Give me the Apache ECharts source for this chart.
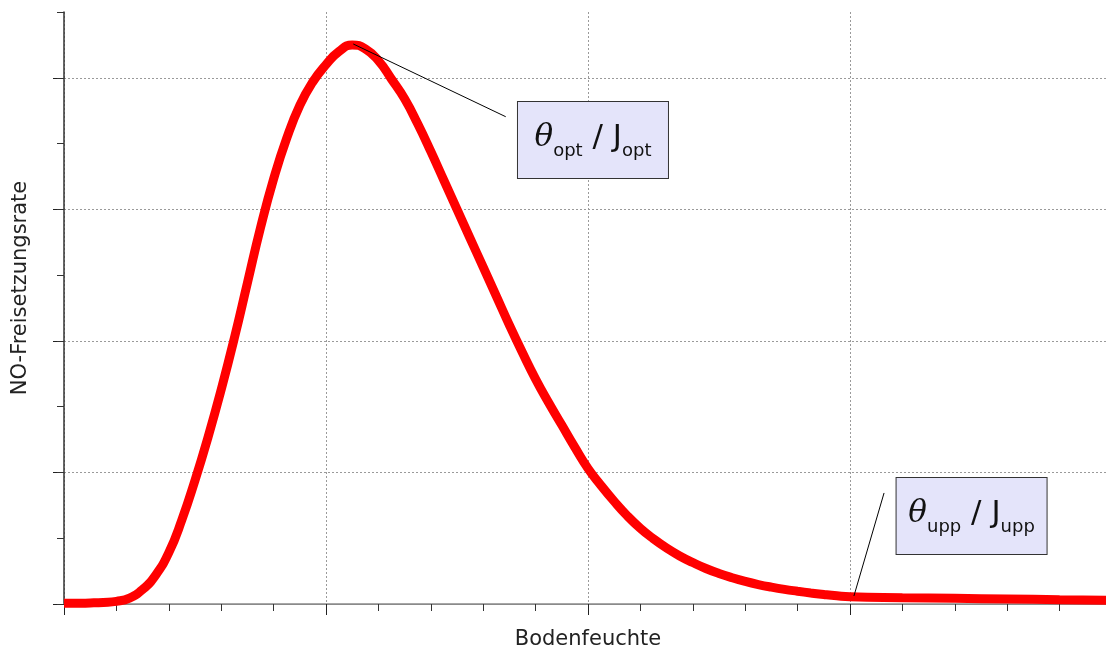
<!DOCTYPE html>
<html>
<head>
<meta charset="utf-8">
<script src="https://cdn.jsdelivr.net/npm/echarts@6/dist/echarts.min.js"></script>
<style>
  html, body { margin: 0; padding: 0; background: #fff; }
  #chart { width: 1106px; height: 650px; }
</style>
</head>
<body>
<div id="chart"></div>
<script>
// Bodenfeuchte (x) gegen NO-Freisetzungsrate (y)
var moisture = [0.00, 0.05, 0.10, 0.15, 0.20, 0.25, 0.30, 0.35, 0.40, 0.45,
                0.50, 0.55, 0.60, 0.65, 0.70, 0.75, 0.80, 0.85, 0.90, 0.95,
                1.00, 1.05, 1.10, 1.15, 1.20, 1.25, 1.30, 1.35, 1.40, 1.45,
                1.50, 1.55, 1.60, 1.65, 1.70, 1.75, 1.80, 1.85, 1.90, 1.95,
                2.00, 2.05, 2.10, 2.15, 2.20, 2.25, 2.30, 2.35, 2.40, 2.45,
                2.50, 2.55, 2.60, 2.65, 2.70, 2.75, 2.80, 2.85, 2.90, 2.95,
                3.00, 3.20, 3.40, 3.60, 3.80, 4.00];
var rate     = [0.005, 0.006, 0.008, 0.012, 0.020, 0.045, 0.11, 0.22, 0.39, 0.64,
                0.94, 1.27, 1.63, 2.02, 2.44, 2.86, 3.23, 3.54, 3.79, 3.97,
                4.10, 4.20, 4.25, 4.22, 4.13, 3.99, 3.84, 3.65, 3.44, 3.22,
                3.00, 2.78, 2.56, 2.34, 2.12, 1.91, 1.71, 1.53, 1.36, 1.19,
                1.03, 0.90, 0.78, 0.67, 0.575, 0.495, 0.425, 0.365, 0.315, 0.270,
                0.232, 0.200, 0.172, 0.148, 0.128, 0.111, 0.097, 0.084, 0.072, 0.062,
                0.055, 0.048, 0.043, 0.038, 0.033, 0.028];

// Markierungen: Ankerpunkt auf der Kurve, Ende der Hinweislinie, Mitte des Kastens
var markSub    = ["opt", "upp"];
var markAnchor = [[1.104, 4.257], [3.015, 0.061]];
var markLead   = [[1.686, 3.704], [3.130, 0.844]];
var markBox    = [[2.019, 3.527], [3.464, 0.668]];

var points = moisture.map(function (x, i) { return [x, rate[i]]; });

var chart = echarts.init(document.getElementById("chart"), null, { renderer: "canvas" });

var FONT = "DejaVu Sans";
var dotted = { color: "#9a9a9a", width: 1, type: [2, 2] };

chart.setOption({
  animation: false,
  backgroundColor: "#fff",
  grid: { left: 64, right: -6, top: 12, bottom: 46, outerBoundsMode: "none" },
  xAxis: [{
    type: "value", min: 0, max: 4, interval: 1, position: "bottom",
    name: "Bodenfeuchte", nameLocation: "middle", nameGap: 25,
    nameTextStyle: { fontFamily: FONT, fontSize: 21, color: "#222" },
    axisLine: { lineStyle: { color: "#8a8a8a", width: 1 } },
    axisTick: { show: true, length: 11, lineStyle: { color: "#222", width: 1 } },
    minorTick: { show: true, splitNumber: 5, length: 7, lineStyle: { color: "#333", width: 1 } },
    axisLabel: { show: false },
    splitLine: { show: true, lineStyle: dotted }
  }, {
    type: "value", min: 0, max: 4, position: "top",
    axisLine: { show: true, lineStyle: { color: "#8a8a8a", width: 1.5 } },
    axisTick: { show: false }, axisLabel: { show: false }, splitLine: { show: false }
  }],
  yAxis: [{
    type: "value", min: 0, max: 4.5, interval: 1, position: "left",
    name: "NO-Freisetzungsrate", nameLocation: "middle", nameGap: 33,
    nameTextStyle: { fontFamily: FONT, fontSize: 21, color: "#222", padding: [0, 0, 0, 40] },
    axisLine: { show: true, lineStyle: { color: "#333", width: 1.5 } },
    axisTick: { show: true, length: 11, customValues: [0, 1, 2, 3, 4],
                lineStyle: { color: "#222", width: 1 } },
    axisLabel: { show: false },
    splitLine: { show: true, lineStyle: dotted }
  }, {
    type: "value", min: 0, max: 4.5, interval: 0.5, position: "left",
    axisLine: { show: false },
    axisTick: { show: true, length: 7, lineStyle: { color: "#333", width: 1 } },
    axisLabel: { show: false }, splitLine: { show: false }
  }],
  series: [{
    type: "line", xAxisIndex: 0, yAxisIndex: 0,
    data: points, smooth: 0.5, showSymbol: false, symbol: "none",
    lineStyle: { color: "#ff0000", width: 9 },
    markLine: {
      silent: true, symbol: "none", label: { show: false },
      lineStyle: { color: "#000", width: 1, type: "solid" },
      data: markAnchor.map(function (a, i) {
        return [{ coord: a }, { coord: markLead[i] }];
      })
    },
    markPoint: {
      silent: true, symbol: "rect", symbolSize: 1,
      itemStyle: { color: "transparent" },
      data: markBox.map(function (c, i) {
        var s = markSub[i];
        return {
          coord: c,
          label: {
            show: true, position: "inside", align: "center",
            formatter: "{th|\u03b8}{sub|" + s + "}{sl| / J}{sub|" + s + "}",
            backgroundColor: "#e4e4fa", borderColor: "#333", borderWidth: 1,
            width: 150, padding: [13, 0, 17, 0],
            rich: {
              th: { fontFamily: "DejaVu Serif", fontStyle: "italic", fontSize: 31,
                    lineHeight: 46, color: "#111" },
              sl: { fontFamily: FONT, fontSize: 31, lineHeight: 46, color: "#111" },
              sub: { fontFamily: FONT, fontSize: 18, lineHeight: 20,
                     padding: [26, 0, 0, 0], color: "#111" }
            }
          }
        };
      })
    }
  }]
});
</script>
</body>
</html>
